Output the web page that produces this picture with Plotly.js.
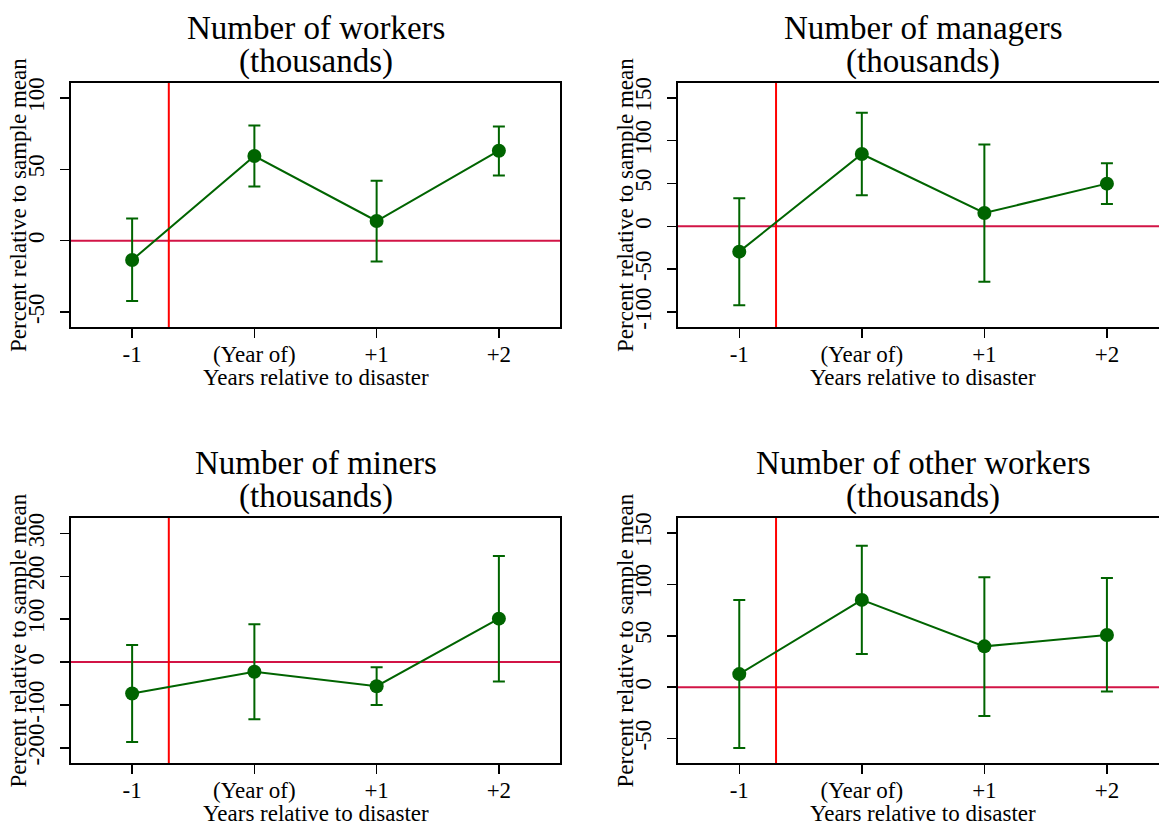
<!DOCTYPE html>
<html>
<head>
<meta charset="utf-8">
<script src="https://cdn.plot.ly/plotly-3.0.1.min.js"></script>
<style>html,body{margin:0;padding:0;background:#fff;}#chart{width:1159px;height:825px;}</style>
</head>
<body>
<div id="chart"></div>
<script>
// ---- data ----
const categories = ["-1", "(Year of)", "+1", "+2"];
const xTitle = "Years relative to disaster";
const yTitle = "Percent relative to sample mean";

const workersTitle = ["Number of workers", "(thousands)"];
const workersEst = [-13.5, 59.3, 13.8, 63.0];
const workersHi  = [15.6, 80.7, 42.0, 80.0];
const workersLo  = [-42.2, 38.0, -14.5, 45.7];
const workersTicks = [-50, 0, 50, 100];

const managersTitle = ["Number of managers", "(thousands)"];
const managersEst = [-29.5, 84.4, 15.6, 49.8];
const managersHi  = [32.7, 132.6, 95.6, 73.5];
const managersLo  = [-92.1, 36.2, -64.5, 26.0];
const managersTicks = [-100, -50, 0, 50, 100, 150];

const minersTitle = ["Number of miners", "(thousands)"];
const minersEst = [-73.2, -22.6, -56.1, 101.2];
const minersHi  = [39.7, 88.0, -11.7, 246.9];
const minersLo  = [-186.1, -133.2, -99.7, -45.2];
const minersTicks = [-200, -100, 0, 100, 200, 300];

const otherTitle = ["Number of other workers", "(thousands)"];
const otherEst = [12.7, 84.9, 39.7, 50.7];
const otherHi  = [84.9, 137.6, 107.0, 106.3];
const otherLo  = [-59.2, 32.2, -28.0, -4.2];
const otherTicks = [-50, 0, 50, 100, 150];

const disasterX = 0.3;   // vertical reference line position (between -1 and year of)
const zeroY = 0;

// ---- layout config ----
const W = 1159, H = 825;
const green = "rgb(0,100,0)";
const font = "Liberation Serif, Times New Roman, serif";

const panels = [
  {title: workersTitle,  est: workersEst,  hi: workersHi,  lo: workersLo, ticks: workersTicks,
   px: [71, 560], py: [83, 327], xr: [-0.5, 3.5], yr: [-60.4, 110.4], right: false},
  {title: managersTitle, est: managersEst, hi: managersHi, lo: managersLo, ticks: managersTicks,
   px: [678, 1159], py: [83, 327], xr: [-0.5, 3.425], yr: [-117.4, 167.2], right: true},
  {title: minersTitle,   est: minersEst,   hi: minersHi,   lo: minersLo, ticks: minersTicks,
   px: [71, 560], py: [518, 763], xr: [-0.5, 3.5], yr: [-235, 335.7], right: false},
  {title: otherTitle,    est: otherEst,    hi: otherHi,    lo: otherLo, ticks: otherTicks,
   px: [678, 1159], py: [518, 763], xr: [-0.5, 3.425], yr: [-73.8, 164.6], right: true}
];

const xIdx = categories.map((c, i) => i);
const traces = [];
const layout = {
  width: W, height: H,
  margin: {l: 0, r: 0, t: 0, b: 0},
  paper_bgcolor: "#fff", plot_bgcolor: "#fff",
  showlegend: false,
  font: {family: font, size: 23, color: "#000"},
  shapes: [], annotations: []
};

panels.forEach((p, k) => {
  const n = k + 1;
  const xa = "x" + (n === 1 ? "" : n), ya = "y" + (n === 1 ? "" : n);
  const xKey = "xaxis" + (n === 1 ? "" : n), yKey = "yaxis" + (n === 1 ? "" : n);
  traces.push({
    type: "scatter", mode: "lines+markers",
    x: xIdx, y: p.est, xaxis: xa, yaxis: ya,
    line: {color: green, width: 2},
    marker: {color: green, size: 14},
    error_y: {type: "data", symmetric: false,
      array: p.hi.map((v, i) => v - p.est[i]),
      arrayminus: p.est.map((v, i) => v - p.lo[i]),
      color: green, thickness: 2, width: 6},
    cliponaxis: false, hoverinfo: "skip"
  });
  const xd = [p.px[0] / W, p.px[1] / W];
  const yd = [1 - p.py[1] / H, 1 - p.py[0] / H];
  layout[xKey] = {
    domain: xd, anchor: ya, range: p.xr,
    tickvals: xIdx, ticktext: categories,
    showline: true, linecolor: "#000", linewidth: 2, mirror: true,
    ticks: "outside", ticklen: 9, tickwidth: 1.5, tickcolor: "#000",
    showgrid: false, zeroline: false, ticklabelstandoff: -4,
    tickfont: {family: font, size: 23, color: "#000"}
  };
  layout[yKey] = {
    domain: yd, anchor: xa, range: p.yr,
    tickvals: p.ticks, ticktext: p.ticks.map(v => String(v)),
    showline: true, linecolor: "#000", linewidth: 2, mirror: !p.right,
    ticks: "outside", ticklen: 9, tickwidth: 1.5, tickcolor: "#000",
    tickangle: -90, showgrid: false, zeroline: false, ticklabelstandoff: 7,
    tickfont: {family: font, size: 23, color: "#000"}
  };
  // zero line
  layout.shapes.push({type: "line", xref: xa + " domain", yref: ya,
    x0: 0, x1: 1, y0: zeroY, y1: zeroY, layer: "below",
    line: {color: "rgb(210,20,70)", width: 2}});
  // disaster line
  layout.shapes.push({type: "line", xref: xa, yref: ya + " domain",
    x0: disasterX, x1: disasterX, y0: 0, y1: 1, layer: "below",
    line: {color: "rgb(255,0,0)", width: 2}});
  const cx = (p.px[0] + (p.right ? 1168 : p.px[1])) / 2 / W;
  // titles (two lines)
  layout.annotations.push({xref: "paper", yref: "paper", x: cx, y: 1 - (p.py[0] - 55) / H,
    text: p.title[0], showarrow: false, xanchor: "center", yanchor: "middle",
    font: {family: font, size: 33, color: "#000"}});
  layout.annotations.push({xref: "paper", yref: "paper", x: cx, y: 1 - (p.py[0] - 22) / H,
    text: p.title[1], showarrow: false, xanchor: "center", yanchor: "middle",
    font: {family: font, size: 33, color: "#000"}});
  // x title
  layout.annotations.push({xref: "paper", yref: "paper", x: cx, y: 1 - (p.py[1] + 50) / H,
    text: xTitle, showarrow: false, xanchor: "center", yanchor: "middle",
    font: {family: font, size: 23, color: "#000"}});
  // y title
  layout.annotations.push({xref: "paper", yref: "paper", x: (p.px[0] - 53) / W,
    y: 1 - (p.py[0] + p.py[1]) / 2 / H,
    text: yTitle, showarrow: false, textangle: -90, xanchor: "center", yanchor: "middle",
    font: {family: font, size: 23, color: "#000"}});
});

Plotly.newPlot("chart", traces, layout, {staticPlot: true, displayModeBar: false});
</script>
</body>
</html>
